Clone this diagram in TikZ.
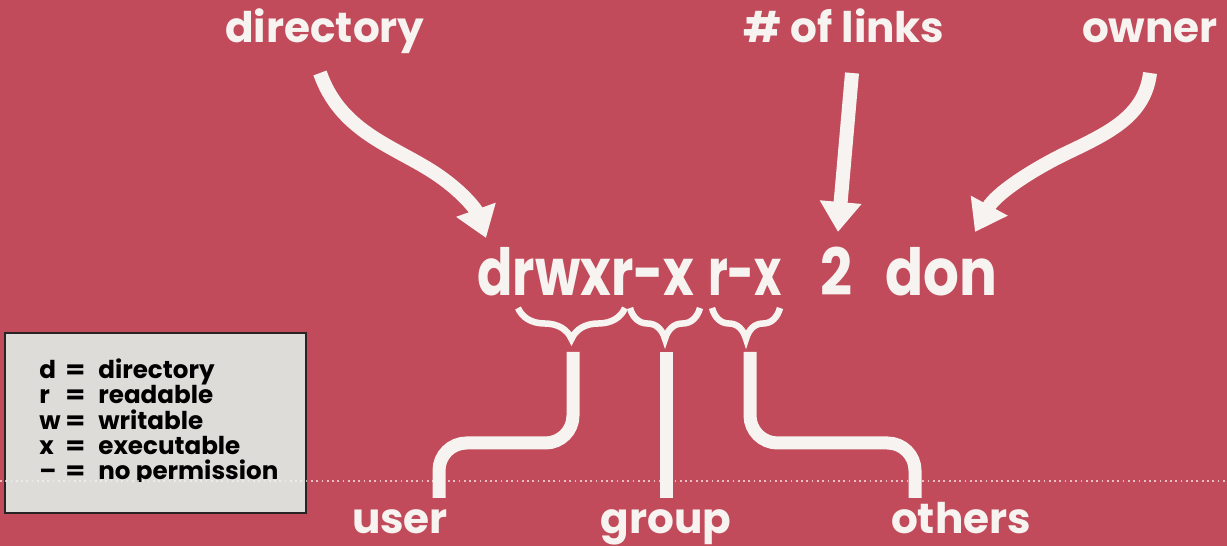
\documentclass[tikz,border=0pt]{standalone}
\usepackage{fontspec}
\usepackage{graphicx}
\setmainfont{Poppins}
\usetikzlibrary{arrows.meta,decorations.pathreplacing}
\definecolor{bg}{RGB}{193,75,90}
\definecolor{ink}{RGB}{246,243,240}
\definecolor{legendfill}{RGB}{222,220,217}
\definecolor{legendline}{RGB}{40,36,38}
\newcommand\hfit[2]{\resizebox{#1}{\height}{#2}}
\begin{document}
\begin{tikzpicture}[x=0.02cm,y=-0.02cm,
  lbl/.style={text=ink,font=\fontsize{24}{28}\selectfont\bfseries,inner sep=0,anchor=base},
  perm/.style={text=ink,font=\fontsize{37}{44}\selectfont\bfseries,inner sep=0,anchor=base},
  bigarrow/.style={draw=ink,line width=0.28cm,-{Triangle[length=0.6cm,width=0.8cm]}},
  legline/.style={draw=ink,line width=0.26cm,rounded corners=0.55cm},
  brc/.style={draw=ink,line width=0.13cm,decorate,decoration={brace,amplitude=0.62cm,mirror}},
  key/.style={text=black,font=\fontsize{14}{16}\selectfont\bfseries,inner sep=0,anchor=base west}
]
\fill[bg] (0,0) rectangle (1227,546);
\useasboundingbox (0,0) rectangle (1227,546);

% top labels
\node[lbl] (dir) at (325,43) {directory};
\node[lbl] (links) at (844,43) {\# of links};
\node[lbl] (owner) at (1150,43) {owner};

% main listing
\node[perm] (p1) at (586,296) {\hfit{4.34cm}{drwxr-x}};
\node[perm] (p2) at (745,296) {\hfit{1.48cm}{r-x}};
\node[perm] (n2) at (836,296) {\hfit{0.64cm}{2}};
\node[perm] (don) at (941,296) {\hfit{2.24cm}{don}};

% arrows
\coordinate (dirA) at (320,73);
\coordinate (dirB) at (486,238);
\coordinate (lnkA) at (852,73);
\coordinate (lnkB) at (838,232);
\coordinate (ownA) at (1150,73);
\coordinate (ownB) at (975,232);
\draw[bigarrow] (dirA) .. controls (340,130) and (390,145) .. (430,170) .. controls (462,190) and (476,210) .. (dirB);
\draw[bigarrow] (lnkA) -- (lnkB);
\draw[bigarrow] (ownA) .. controls (1145,115) and (1110,132) .. (1073,150) .. controls (1030,170) and (995,195) .. (ownB);

% braces
\draw[brc] (518,308) -- (625,308);
\draw[brc] (630,308) -- (700,308);
\draw[brc] (712,308) -- (780,308);

% bottom labels
\node[lbl] (user) at (400,534) {user};
\node[lbl] (group) at (666,534) {group};
\node[lbl] (others) at (961,534) {others};

\coordinate (ua) at (573,352);
\coordinate (ue) at (439,498);
\coordinate (ga) at (666,352);
\coordinate (ge) at (666,498);
\coordinate (oa) at (750,352);
\coordinate (oe) at (915,498);
\draw[legline] (ua) -- ++(0,91) -| (ue);
\draw[legline] (ga) -- (ge);
\draw[legline] (oa) -- ++(0,91) -| (oe);

% legend
\node[draw=legendline,fill=legendfill,line width=1.3pt,minimum width=6.02cm,minimum height=3.6cm,inner sep=0] (legend) at (155.5,423) {};
\foreach \y/\k/\t in {379/d/directory,404/r/readable,430/w/writable,455/x/executable}{
  \node[key] at (39,\y) {\k};
  \node[key] at (65,\y) {\hfit{0.4cm}{=}};
  \node[key] at (98,\y) {\t};
}
\begin{scope}
\clip (0,0) rectangle (1227,482);
\node[key] (dash) at (39,480) {–};
\node[key] (eq5) at (65,480) {\hfit{0.4cm}{=}};
\node[key] (noperm) at (98,480) {no permission};
\end{scope}

% fold line
\draw[ink, opacity=0.7, dotted, line width=1pt] (0,481) -- (1227,481);
\end{tikzpicture}
\end{document}
